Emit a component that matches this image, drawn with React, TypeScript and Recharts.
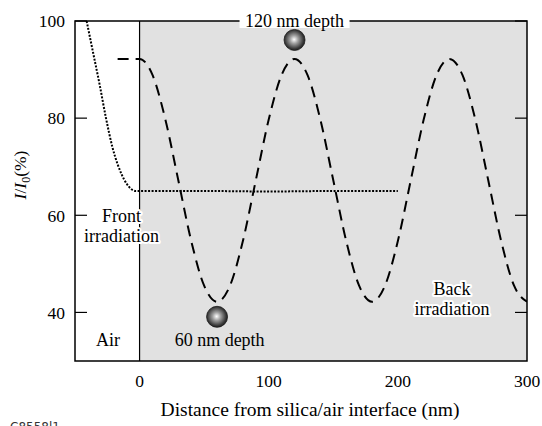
import { ComposedChart, Line, Scatter, XAxis, YAxis, ReferenceArea, ReferenceLine, ReferenceDot } from "recharts";

const FONT = "'Liberation Serif', 'Times New Roman', serif";

// front irradiation (dotted) curve
const FRONT_X = [-41, -36, -31, -26, -21, -17, -14, -10, -6, -3, 0, 50, 100, 150, 200];
const FRONT_Y = [100, 93.5, 87, 80, 74, 70.5, 68.5, 66.5, 65.3, 65, 65, 65, 64.9, 65, 65];

// back irradiation (dashed) curve
const BACK_X = [-17, 0, 10, 20, 30, 40, 50, 60, 70, 80, 90, 100, 110, 120, 130, 140, 150, 160, 170, 180, 190, 200, 210, 220, 230, 240, 250, 260, 270, 280, 290, 300];
const BACK_Y = [92.2, 92.2, 88.9, 79.7, 67.2, 54.7, 45.5, 42.2, 45.5, 54.7, 67.2, 79.7, 88.9, 92.2, 88.9, 79.7, 67.2, 54.7, 45.5, 42.2, 45.5, 54.7, 67.2, 79.7, 88.9, 92.2, 88.9, 79.7, 67.2, 54.7, 45.5, 42.2];

// particle positions
const PARTICLE_X = [120, 60];
const PARTICLE_Y = [96.1, 39.1];

const X_TICKS = [0, 100, 200, 300];
const Y_TICKS = [40, 60, 80, 100];

const front = FRONT_X.map((x, i) => ({ x, y: FRONT_Y[i] }));
const back = BACK_X.map((x, i) => ({ x, y: BACK_Y[i] }));
const particles = PARTICLE_X.map((x, i) => ({ x, y: PARTICLE_Y[i] }));

const IDS = { xAxisId: "b", yAxisId: "l" };
const blank = () => "";

function BottomTick({ x, y, payload }: any) {
  return (
    <text x={x} y={y + 26} textAnchor="middle" fontSize={17.5} fontFamily={FONT} fill="#000">{payload.value}</text>
  );
}

function LeftTick({ x, y, payload }: any) {
  return (
    <text x={x - 10} y={y} dy="0.36em" textAnchor="end" fontSize={17.5} fontFamily={FONT} fill="#000">{payload.value}</text>
  );
}

function Ball({ cx, cy }: any) {
  return <circle cx={cx} cy={cy} r={10.5} fill="url(#ball)" stroke="#1a1a1a" strokeWidth={0.8} />;
}

function Note({ cx, cy, lines, halo }: any) {
  return (
    <g>
      {lines.map((t: string, i: number) => (
        <text key={t} x={cx} y={cy + i * 20} textAnchor="middle" fontSize={18} fontFamily={FONT} fill="#000"
          stroke={halo ? "#fff" : "none"} strokeWidth={halo ? 4 : 0} strokeLinejoin="round" style={{ paintOrder: "stroke" }}>
          {t}
        </text>
      ))}
    </g>
  );
}

function BoxedNote({ cx, cy }: any) {
  return (
    <g>
      <rect x={cx - 55} y={cy - 9} width={110} height={16} fill="#fff" />
      <text x={cx} y={cy + 5.5} textAnchor="middle" fontSize={18} fontFamily={FONT} fill="#000">120 nm depth</text>
    </g>
  );
}

function YLabel({ viewBox }: any) {
  const cx = viewBox.x + 20;
  const cy = viewBox.y + viewBox.height / 2 - 16;
  return (
    <text x={cx} y={cy} transform={`rotate(-90 ${cx} ${cy})`} textAnchor="middle" dy="0.35em" fontSize={17.5} fontFamily={FONT} fill="#000">
      <tspan fontStyle="italic">I</tspan>/<tspan fontStyle="italic">I</tspan>
      <tspan fontSize={12} dy={4}>0</tspan>
      <tspan dy={-4}>(%)</tspan>
    </text>
  );
}

function XLabel({ viewBox }: any) {
  const cx = viewBox.x + viewBox.width / 2 + 9;
  return (
    <g>
      <text x={cx} y={416} textAnchor="middle" fontSize={19.5} fontFamily={FONT} fill="#000">
        Distance from silica/air interface (nm)
      </text>
      <text x={10} y={431} fontSize={12} fontFamily="'DejaVu Sans', sans-serif" fill="#333">C8558l1</text>
    </g>
  );
}

const tickStroke = { stroke: "#000", strokeWidth: 1.2 };

export default function App() {
  return (
    <div style={{ position: "fixed", left: 0, top: 0, width: 542, height: 426, background: "#fff" }}>
      <ComposedChart width={542} height={426} margin={{ top: 21, right: 15, bottom: 0, left: 0 }}>
        <defs>
          <radialGradient id="ball" cx="48%" cy="48%" r="55%">
            <stop offset="0%" stopColor="#ffffff" />
            <stop offset="35%" stopColor="#a0a0a0" />
            <stop offset="80%" stopColor="#383838" />
            <stop offset="100%" stopColor="#1a1a1a" />
          </radialGradient>
        </defs>
        <XAxis xAxisId="b" type="number" dataKey="x" domain={[-50, 300]} ticks={X_TICKS} allowDataOverflow
          height={65} tickLine={false} axisLine={false} tickSize={0} tickMargin={0}
          tick={<BottomTick />} label={<XLabel />} />
        <XAxis xAxisId="bm" type="number" domain={[-50, 300]} ticks={X_TICKS} allowDataOverflow mirror
          tickSize={12} tickLine={tickStroke} axisLine={false} tickFormatter={blank} />
        <XAxis xAxisId="tm" orientation="top" type="number" domain={[-50, 300]} ticks={X_TICKS} allowDataOverflow mirror
          tickSize={12} tickLine={tickStroke} axisLine={false} tickFormatter={blank} />
        <YAxis yAxisId="l" type="number" domain={[30, 100]} ticks={Y_TICKS} allowDataOverflow
          width={75} tickLine={false} axisLine={false} tickSize={0} tickMargin={0}
          tick={<LeftTick />} label={<YLabel />} />
        <YAxis yAxisId="lm" type="number" domain={[30, 100]} ticks={Y_TICKS} allowDataOverflow mirror
          tickSize={12} tickLine={tickStroke} axisLine={false} tickFormatter={blank} />
        <YAxis yAxisId="rm" orientation="right" type="number" domain={[30, 100]} ticks={Y_TICKS} allowDataOverflow mirror
          tickSize={12} tickLine={tickStroke} axisLine={false} tickFormatter={blank} />
        <ReferenceArea {...IDS} x1={0} x2={300} y1={30} y2={100} fill="#e1e1e1" fillOpacity={1} stroke="none" />
        <ReferenceLine {...IDS} x={0} stroke="#000" strokeWidth={1.2} />
        <ReferenceArea {...IDS} x1={-50} x2={300} y1={30} y2={100} fill="none" stroke="#000" strokeWidth={1.5} />
        <Line {...IDS} data={front} dataKey="y" type="monotone" stroke="#000" strokeWidth={2}
          strokeDasharray="2 1.5" dot={false} isAnimationActive={false} />
        <Line {...IDS} data={back} dataKey="y" type="monotone" stroke="#000" strokeWidth={2}
          strokeDasharray="11 7" dot={false} isAnimationActive={false} />
        <Scatter {...IDS} data={particles} dataKey="y" shape={<Ball />} isAnimationActive={false} />
        <ReferenceDot {...IDS} x={120} y={100} r={0} ifOverflow="visible" shape={<BoxedNote />} />
        <ReferenceDot {...IDS} x={62} y={33} r={0} ifOverflow="visible" shape={<Note lines={["60 nm depth"]} />} />
        <ReferenceDot {...IDS} x={-24.5} y={33} r={0} ifOverflow="visible" shape={<Note lines={["Air"]} />} />
        <ReferenceDot {...IDS} x={-14} y={58.6} r={0} ifOverflow="visible" shape={<Note lines={["Front", "irradiation"]} halo />} />
        <ReferenceDot {...IDS} x={242} y={43.6} r={0} ifOverflow="visible" shape={<Note lines={["Back", "irradiation"]} halo />} />
      </ComposedChart>
    </div>
  );
}
